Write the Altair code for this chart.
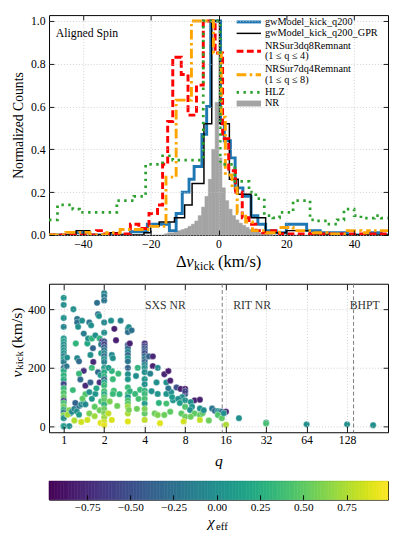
import altair as alt
import numpy as np
import pandas as pd

FONT = "Liberation Serif"
W = 347
H1 = 225
H2 = 152
HC = 19

# ---------------- top panel: histogram data (step edges / heights) ----------------
blue_edges = [-50, -43, -38, -26, -21, -14.5, -12.5, -10.7, -8.7, -7.2, -4.9, -3.5, -2.3, 0.6, 1.7,
              3.5, 4.9, 7.2, 9.6, 11.6, 13.9, 17, 20, 26, 30, 38, 44, 48, 50]
blue_vals = [0, 0.01, 0, 0.015, 0.05, 0.02, 0.1, 0.2, 0.26, 0.32, 0.47, 0.6, 1.0, 0.52, 0.44,
             0.36, 0.22, 0.18, 0.09, 0.05, 0.02, 0.01, 0.05, 0.02, 0.01, 0.0, 0.01, 0.0]

black_edges = [-50, -42, -38, -32, -29, -22, -20, -17.5, -15.5, -13, -10, -7.8, -4.3, -2, 0.3,
               3.2, 5.8, 9.6, 13.9, 20, 27, 50]
black_vals = [0, 0.02, 0, 0.01, 0, 0.01, 0.04, 0.06, 0.06, 0.08, 0.14, 0.24, 0.52, 1.0, 0.52,
              0.26, 0.19, 0.08, 0.01, 0.02, 0]

red_edges = [-50, -36, -34, -26, -23.5, -20.5, -18, -16.5, -15, -13.5, -11, -9, -6.5, -4.5, -1,
             1.2, 3, 5, 7, 9, 11, 13, 15, 18, 50]
red_vals = [0, 0.02, 0.005, 0.05, 0.03, 0.1, 0.14, 0.33, 0.53, 0.83, 0.75, 0.56, 0.7, 1.0, 0.85,
            0.45, 0.3, 0.2, 0.08, 0.05, 0.02, 0.01, 0.02, 0.005]

orange_edges = [-50, -45, -38, -33, -29, -20, -15.5, -12.5, -8, -1.5, 0.8, 2, 4, 5.5, 8, 10, 14,
                18, 22, 28, 32, 38, 42, 44, 50]
orange_vals = [0, 0.012, 0, 0.01, 0.025, 0.04, 0.27, 0.63, 1.0, 0.85, 0.55, 0.28, 0.22, 0.1, 0.06,
               0.02, 0.01, 0.035, 0.02, 0.01, 0.005, 0.02, 0.01, 0.02]

hlz_edges = [-50, -47.5, -43, -41, -30, -25, -21.5, -16.5, -13.5, -4.5, 0.5, 4.8, 9, 11, 13.5, 16,
             18, 22, 27, 29, 32, 35, 37, 40, 42, 46, 48, 50]
hlz_vals = [0.07, 0.14, 0.12, 0.105, 0.16, 0.18, 0.33, 0.37, 0.35, 1.0, 0.33, 0.25, 0.2, 0.17, 0.09,
            0.08, 0.105, 0.16, 0.07, 0.066, 0.05, 0.07, 0.12, 0.09, 0.078, 0.09, 0.078]

nr_edges = list(range(-16, 17))
nr_vals = [0.005, 0.01, 0.01, 0.015, 0.02, 0.025, 0.03, 0.04, 0.05, 0.065, 0.09, 0.13, 0.18, 0.26,
           0.4, 0.62, 0.36, 0.22, 0.16, 0.12, 0.09, 0.07, 0.055, 0.045, 0.035, 0.025, 0.02, 0.015,
           0.01, 0.008, 0.005, 0.004]

top_xticks = [-40, -20, 0, 20, 40]
top_yticks = [0.0, 0.2, 0.4, 0.6, 0.8, 1.0]

# ---------------- bottom panel: (q, v_kick, chi_eff) ----------------
pts_q1 = [(1.0, 439, 0.05), (1.0, 415, 0.0), (1.0, 370, 0.02), (1.0, 340, -0.08), (1.0, 300, 0.08),
          (1.0, 290, 0.12), (1.0, 280, 0.0), (1.0, 270, -0.05), (1.0, 260, 0.05), (1.0, 250, 0.0),
          (1.0, 240, -0.12), (1.0, 230, 0.1), (1.0, 220, -0.15), (1.0, 200, -0.3), (1.0, 190, 0.22),
          (1.0, 175, 0.3), (1.0, 160, 0.25), (1.0, 145, -0.55), (1.0, 130, 0.35), (1.0, 115, 0.45),
          (1.0, 100, 0.5), (1.0, 88, -0.65), (1.0, 80, 0.4), (1.0, 68, 0.55), (1.0, 58, 0.3),
          (1.0, 48, -0.2), (1.0, 38, 0.6), (1.0, 28, 0.0), (1.0, 2, 0.0), (1.0, 0, 0.1)]
pts_q1_15 = [(1.06, 235, 0.0), (1.05, 205, -0.2), (1.1, 1, 0.0), (1.12, 45, 0.0), (1.1, 55, 0.62),
             (1.07, 40, 0.72), (1.15, 50, -0.05), (1.2, 60, -0.12), (1.25, 52, 0.0), (1.3, 70, -0.22),
             (1.22, 80, -0.35), (1.35, 75, -0.1), (1.4, 82, 0.0), (1.45, 75, -0.06), (1.3, 40, 0.12),
             (1.18, 400, 0.0), (1.26, 367, -0.2), (1.26, 355, -0.25), (1.28, 340, 0.0), (1.37, 361, 0.0),
             (1.41, 317, -0.15), (1.23, 283, 0.3), (1.17, 124, 0.35), (1.26, 233, -0.05), (1.3, 222, -0.3),
             (1.41, 190, -0.7), (1.3, 180, 0.35), (1.33, 160, -0.3), (1.45, 139, -0.75), (1.2, 20, 0.75),
             (1.35, 15, 0.85), (1.45, 110, 0.45), (1.38, 95, 0.5)]
pts_q15_2 = [(1.5, 283, 0.2), (1.52, 300, 0.0), (1.62, 300, 0.3), (1.72, 311, 0.0), (1.85, 300, 0.3),
             (1.65, 267, -0.35), (1.58, 244, 0.0), (1.66, 220, -0.75), (1.62, 200, 0.35), (1.8, 185, -0.3),
             (1.88, 175, 0.05), (1.85, 150, -0.7), (1.58, 150, -0.35), (1.55, 117, 0.0), (1.72, 111, 0.05),
             (1.62, 94, 0.05), (1.55, 44, 0.6), (1.7, 67, 0.5), (1.5, 22, 0.85), (1.85, 55, 0.55),
             (1.77, 422, -0.25), (1.8, 383, -0.3), (1.83, 377, 0.0), (1.55, 355, -0.2), (1.6, 345, 0.0),
             (1.93, 290, -0.72), (1.9, 280, -0.2), (1.9, 250, 0.1), (1.75, 130, 0.2), (1.9, 85, 0.4),
             (1.7, 35, 0.7), (1.88, 12, 0.9)]
pts_q2 = [(2.0, 455, -0.1), (2.0, 445, -0.15), (2.0, 430, -0.2), (2.0, 355, -0.05), (2.0, 320, 0.0),
          (2.0, 290, -0.5), (2.0, 280, -0.62), (2.0, 270, -0.4), (2.0, 260, -0.2), (2.0, 250, -0.1),
          (2.0, 240, -0.3), (2.0, 230, 0.0), (2.0, 220, -0.1), (2.0, 200, 0.1), (2.0, 185, 0.25),
          (2.0, 170, 0.3), (2.0, 160, -0.3), (2.0, 150, 0.2), (2.0, 140, 0.35), (2.0, 120, 0.4),
          (2.0, 110, 0.2), (2.0, 100, 0.45), (2.0, 90, 0.5), (2.0, 75, 0.3), (2.0, 60, 0.55),
          (2.0, 45, 0.6), (2.0, 30, 0.7), (2.0, 15, 0.85), (2.0, 5, 0.92)]
pts_q2_3 = [(2.25, 361, 0.0), (2.38, 333, -0.8), (2.45, 294, -0.82), (2.28, 244, -0.05), (2.32, 233, 0.0),
            (2.28, 189, 0.3), (2.32, 161, 0.35), (2.36, 122, 0.4), (2.32, 111, 0.35), (2.15, 44, 0.8),
            (2.28, 22, 0.88), (2.65, 361, -0.1), (2.15, 200, 0.1), (2.2, 85, 0.6), (2.5, 70, 0.55),
            (2.6, 110, 0.3), (2.55, 180, 0.35)]
pts_q3 = [(3.0, 333, -0.15), (3.0, 322, -0.25), (3.05, 339, 0.0), (3.0, 278, -0.4), (3.0, 267, -0.3),
          (3.0, 255, -0.1), (3.0, 244, -0.3), (3.0, 233, 0.0), (3.0, 222, -0.2), (3.0, 200, -0.35),
          (3.0, 178, 0.0), (3.0, 161, 0.05), (3.0, 133, 0.35), (3.0, 111, 0.4), (3.0, 100, 0.05),
          (3.0, 89, 0.4), (3.0, 78, 0.5), (3.0, 67, 0.7), (3.0, 44, 0.75), (3.0, 17, 0.9),
          (3.1, 283, -0.8), (3.2, 328, -0.25), (3.05, 56, 0.6), (3.1, 120, 0.3),
          (3.45, 172, 0.0), (3.4, 111, 0.35), (3.6, 94, 0.4), (3.55, 200, 0.3), (3.7, 125, 0.35),
          (3.5, 60, 0.55)]
pts_q4 = [(4.0, 283, -0.72), (4.0, 275, -0.6), (4.0, 267, -0.5), (4.0, 258, -0.4), (4.0, 250, -0.55),
          (4.0, 240, -0.3), (4.0, 230, -0.2), (4.0, 220, -0.35), (4.0, 210, -0.1), (4.0, 200, 0.0),
          (4.0, 161, 0.05), (4.0, 144, 0.0), (4.0, 122, 0.3), (4.0, 111, 0.35), (4.0, 94, 0.4),
          (4.0, 78, 0.1), (4.0, 44, 0.5), (4.0, 22, 0.8), (4.0, 185, 0.0), (4.0, 60, 0.6),
          (4.3, 239, -0.35), (4.6, 239, -0.75), (4.6, 206, -0.8), (5.0, 200, -0.05), (4.9, 150, 0.0),
          (5.0, 111, 0.05), (4.75, 44, 0.55), (5.0, 39, 0.6), (5.2, 11, 0.9), (4.4, 180, -0.1),
          (4.5, 120, 0.0), (5.1, 80, 0.3)]
pts_q6_8 = [(5.6, 178, -0.78), (6.0, 189, -0.82), (5.8, 150, 0.0), (6.2, 156, -0.8), (5.8, 111, 0.05),
            (6.3, 117, 0.0), (6.5, 89, 0.05), (5.8, 78, 0.4), (6.2, 50, 0.5), (5.6, 39, 0.55),
            (6.0, 130, -0.2), (6.4, 100, 0.1), (6.9, 133, -0.5), (7.4, 128, -0.8), (8.0, 128, -0.85),
            (8.0, 111, -0.4), (7.6, 100, 0.0), (7.1, 94, 0.0), (8.0, 89, 0.05), (8.0, 67, 0.45),
            (7.5, 44, 0.5), (8.0, 33, 0.55), (7.8, 17, 0.85), (8.0, 120, -0.6), (7.3, 80, 0.1)]
pts_q8_16 = [(9.4, 89, -0.8), (8.8, 83, 0.0), (9.0, 67, 0.05), (8.7, 56, 0.0), (9.4, 44, 0.5),
             (8.8, 33, 0.55), (10.3, 91, -0.8), (10.3, 61, 0.0), (10.3, 39, 0.5), (10.3, 22, 0.8),
             (10.8, 45, 0.5), (11.0, 55, 0.0), (12.7, 61, -0.2), (13.3, 53, -0.3), (14.0, 52, 0.0),
             (14.5, 50, 0.0), (15.0, 50, -0.3), (15.8, 48, -0.8), (16.1, 50, -0.8), (14.0, 39, 0.45),
             (15.0, 28, 0.5), (12.0, 20, 0.55), (16.1, 6, 0.75), (15.5, 45, 0.0)]
pts_rit_bhpt = [(20.1, 28, 0.0), (32.0, 13, 0.0), (32.0, 10, 0.4), (64.0, 7, 0.0), (128.0, 7, 0.0),
                (200.0, 4, 0.0)]

bot_xticks = [1, 2, 4, 8, 16, 32, 64, 128]
bot_yticks = [0, 200, 400]
region_bounds = [15.1, 143]
region_labels = ["SXS NR", "RIT NR", "BHPT"]
region_label_q = [4.03, 18.2, 134]
region_label_v = [413, 413, 413]

cb_ticks = [-0.75, -0.5, -0.25, 0.0, 0.25, 0.5, 0.75]
chi_lo, chi_hi = -0.97, 0.99

# ---------------- helpers ----------------
def step_df(edges, vals):
    return pd.DataFrame({"x": list(edges), "y": list(vals) + [vals[-1]]})


def frame_axis(orient, values, tick=5, labels=True, grid=False, fmt=None, title=None, **extra):
    d = dict(orient=orient, values=values, offset=-tick, tickSize=tick, domain=False,
             tickColor="black", tickWidth=0.9, zindex=1, labels=labels, title=title)
    if labels:
        d.update(labelFont=FONT, labelFontSize=12, labelColor="black", labelPadding=4)
        if fmt:
            d["format"] = fmt
    if grid:
        d.update(grid=True, gridColor="#c4c4c4", gridDash=[1, 2], gridWidth=0.8)
    else:
        d["grid"] = False
    d.update(extra)
    return alt.Axis(**d)


def txt(s, x, y, size=12, style="normal", align="left", baseline="middle", angle=0):
    return alt.Chart(pd.DataFrame({"t": [s]})).mark_text(
        font=FONT, fontSize=size, fontStyle=style, align=align, baseline=baseline,
        angle=angle, color="black").encode(x=alt.value(x), y=alt.value(y), text="t:N")


def handle(y, color, width, dash=None):
    kw = dict(color=color, strokeWidth=width)
    if dash:
        kw["strokeDash"] = dash
    return alt.Chart(pd.DataFrame({"a": [0]})).mark_rule(**kw).encode(
        x=alt.value(192), x2=alt.value(217), y=alt.value(y))


# ---------------- top chart ----------------
xs_top = alt.Scale(domain=[-50, 50], nice=False, zero=False)
ys_top = alt.Scale(domain=[0, 1.0274], nice=False, zero=False)

nr_df = pd.DataFrame({"x0": nr_edges[:-1], "x1": nr_edges[1:], "h": nr_vals})
nr_layer = alt.Chart(nr_df).mark_rect(color="#a4a4a4", stroke="#a4a4a4", strokeWidth=0.6).encode(
    x=alt.X("x0:Q", scale=xs_top,
            axis=frame_axis("bottom", top_xticks, grid=True, fmt="d")),
    x2="x1:Q",
    y=alt.Y("h:Q", scale=ys_top,
            axis=frame_axis("left", top_yticks, grid=True, fmt=".1f",
                            title="Normalized Counts", titleFont=FONT, titleFontSize=14,
                            titleFontWeight="normal", titleColor="black", titlePadding=5)),
    y2=alt.datum(0))


def series_line(edges, vals, color, width, dash=None, axes=False):
    kw = dict(interpolate="step-after", color=color, strokeWidth=width, clip=True)
    if dash:
        kw["strokeDash"] = dash
    if axes:
        xax = frame_axis("top", top_xticks, labels=False)
        yax = frame_axis("right", top_yticks, labels=False)
    else:
        xax = None
        yax = None
    return alt.Chart(step_df(edges, vals)).mark_line(**kw).encode(
        x=alt.X("x:Q", scale=xs_top, axis=xax),
        y=alt.Y("y:Q", scale=ys_top, axis=yax))


blue_l = series_line(blue_edges, blue_vals, "#1f77b4", 3, axes=True)
black_l = series_line(black_edges, black_vals, "black", 1.5)
red_l = series_line(red_edges, red_vals, "#ff0000", 3, dash=[7, 3.5])
orange_l = series_line(orange_edges, orange_vals, "#ffa500", 3, dash=[10, 3.5, 2.5, 3.5])
hlz_l = series_line(hlz_edges, hlz_vals, "#2ca02c", 2.8, dash=[2.5, 4.5])

LX = 221
legend_layers = [
    handle(7, "#1f77b4", 3), txt("gwModel_kick_q200", LX, 7, 10.5),
    handle(18.7, "black", 1.5), txt("gwModel_kick_q200_GPR", LX, 18.7, 10.5),
    handle(37, "#ff0000", 3, [7, 3.5]), txt("NRSur3dq8Remnant", LX, 31.3, 10.5),
    txt("(1 ≤ q ≤ 4)", LX, 42, 10.5),
    handle(61, "#ffa500", 3, [10, 3.5, 2.5, 3.5]), txt("NRSur7dq4Remnant", LX, 55.3, 10.5),
    txt("(1 ≤ q ≤ 8)", LX, 67, 10.5),
    handle(79, "#2ca02c", 2.8, [2.5, 4.5]), txt("HLZ", LX, 79, 10.5),
    alt.Chart(pd.DataFrame({"a": [0]})).mark_rect(color="#a4a4a4").encode(
        x=alt.value(192), x2=alt.value(217), y=alt.value(87.5), y2=alt.value(93.5)),
    txt("NR", LX, 90, 10.5),
]

top_labels = [
    txt("Aligned Spin", 7, 18, 12),
    txt("Δ", 130, 258, 17, baseline="alphabetic"),
    txt("v", 140.5, 258, 17, style="italic", baseline="alphabetic"),
    txt("kick", 148.5, 261, 12, baseline="alphabetic"),
    txt("(km/s)", 173, 258, 17, baseline="alphabetic"),
]

top = alt.layer(nr_layer, blue_l, black_l, red_l, orange_l, hlz_l,
                *legend_layers, *top_labels).properties(
    width=W, height=H1).resolve_axis(x="independent", y="independent")

# ---------------- bottom chart ----------------
xs_bot = alt.Scale(type="log", base=2, domain=[0.778, 258], nice=False)
ys_bot = alt.Scale(domain=[-20, 487], nice=False, zero=False)
cscale = alt.Scale(scheme="viridis", domain=[chi_lo, chi_hi])

all_pts = (pts_q1 + pts_q1_15 + pts_q15_2 + pts_q2 + pts_q2_3 + pts_q3 + pts_q4 + pts_q6_8
           + pts_q8_16 + pts_rit_bhpt)
sc_df = pd.DataFrame(all_pts, columns=["q", "v", "chi"])

rules = alt.Chart(pd.DataFrame({"q": region_bounds})).mark_rule(
    color="#7a7a7a", strokeDash=[4, 2.5], strokeWidth=1).encode(
    x=alt.X("q:Q", scale=xs_bot, axis=frame_axis("top", bot_xticks, tick=6, labels=False)))

scatter = alt.Chart(sc_df).mark_circle(size=42, opacity=1, stroke="white", strokeWidth=0.35).encode(
    x=alt.X("q:Q", scale=xs_bot,
            axis=frame_axis("bottom", bot_xticks, tick=6, grid=True, fmt="d", labelPadding=3,
                            title="q", titleFont=FONT, titleFontSize=16, titleFontStyle="italic",
                            titleFontWeight="normal", titleColor="black", titlePadding=7)),
    y=alt.Y("v:Q", scale=ys_bot,
            axis=frame_axis("left", bot_yticks, tick=5, grid=True, fmt="d")),
    color=alt.Color("chi:Q", scale=cscale, legend=None))

ann_df = pd.DataFrame({"q": region_label_q, "v": region_label_v, "t": region_labels})
annots = alt.Chart(ann_df).mark_text(font=FONT, fontSize=12, align="left", baseline="middle",
                                     color="#333333").encode(
    x=alt.X("q:Q", scale=xs_bot, axis=None),
    y=alt.Y("v:Q", scale=ys_bot, axis=frame_axis("right", bot_yticks, tick=5, labels=False)),
    text="t:N")

bot_labels = [
    txt("v", -33, 96, 16, style="italic", align="left", angle=270),
    txt("kick", -30, 88, 11, align="left", angle=270),
    txt("(km/s)", -33, 66, 16, align="left", angle=270),
]

bottom = alt.layer(rules, scatter, annots, *bot_labels).properties(
    width=W, height=H2).resolve_axis(x="independent", y="independent")

# ---------------- colorbar ----------------
cb_edges = np.linspace(chi_lo, chi_hi, 121)
cb_df = pd.DataFrame({"lo": cb_edges[:-1], "hi": cb_edges[1:],
                      "mid": (cb_edges[:-1] + cb_edges[1:]) / 2})
cbx = alt.Scale(domain=[chi_lo, chi_hi], nice=False, zero=False)
cb_rects = alt.Chart(cb_df).mark_rect(strokeWidth=0.6).encode(
    x=alt.X("lo:Q", scale=cbx, axis=frame_axis("bottom", cb_ticks, tick=5, fmt=".2f",
                                                labelPadding=2, labelFontSize=11.5)),
    x2="hi:Q",
    y=alt.value(0), y2=alt.value(HC),
    color=alt.Color("mid:Q", scale=cscale, legend=None),
    stroke=alt.Color("mid:Q", scale=cscale, legend=None))

cb_labels = [
    txt("χ", 166, 47, 16, style="italic", align="center", baseline="alphabetic"),
    txt("eff", 171, 50, 11, align="left", baseline="alphabetic"),
]
cbar = alt.layer(cb_rects, *cb_labels).properties(width=W, height=HC)

chart = alt.vconcat(top, bottom, cbar, spacing=50, bounds="flush").properties(
    padding={"left": 0, "top": 0, "right": 0, "bottom": 0},
    background="white").configure_view(stroke="black", strokeWidth=1)

chart.save("out.html", embed_options={"renderer": "svg", "actions": False})
